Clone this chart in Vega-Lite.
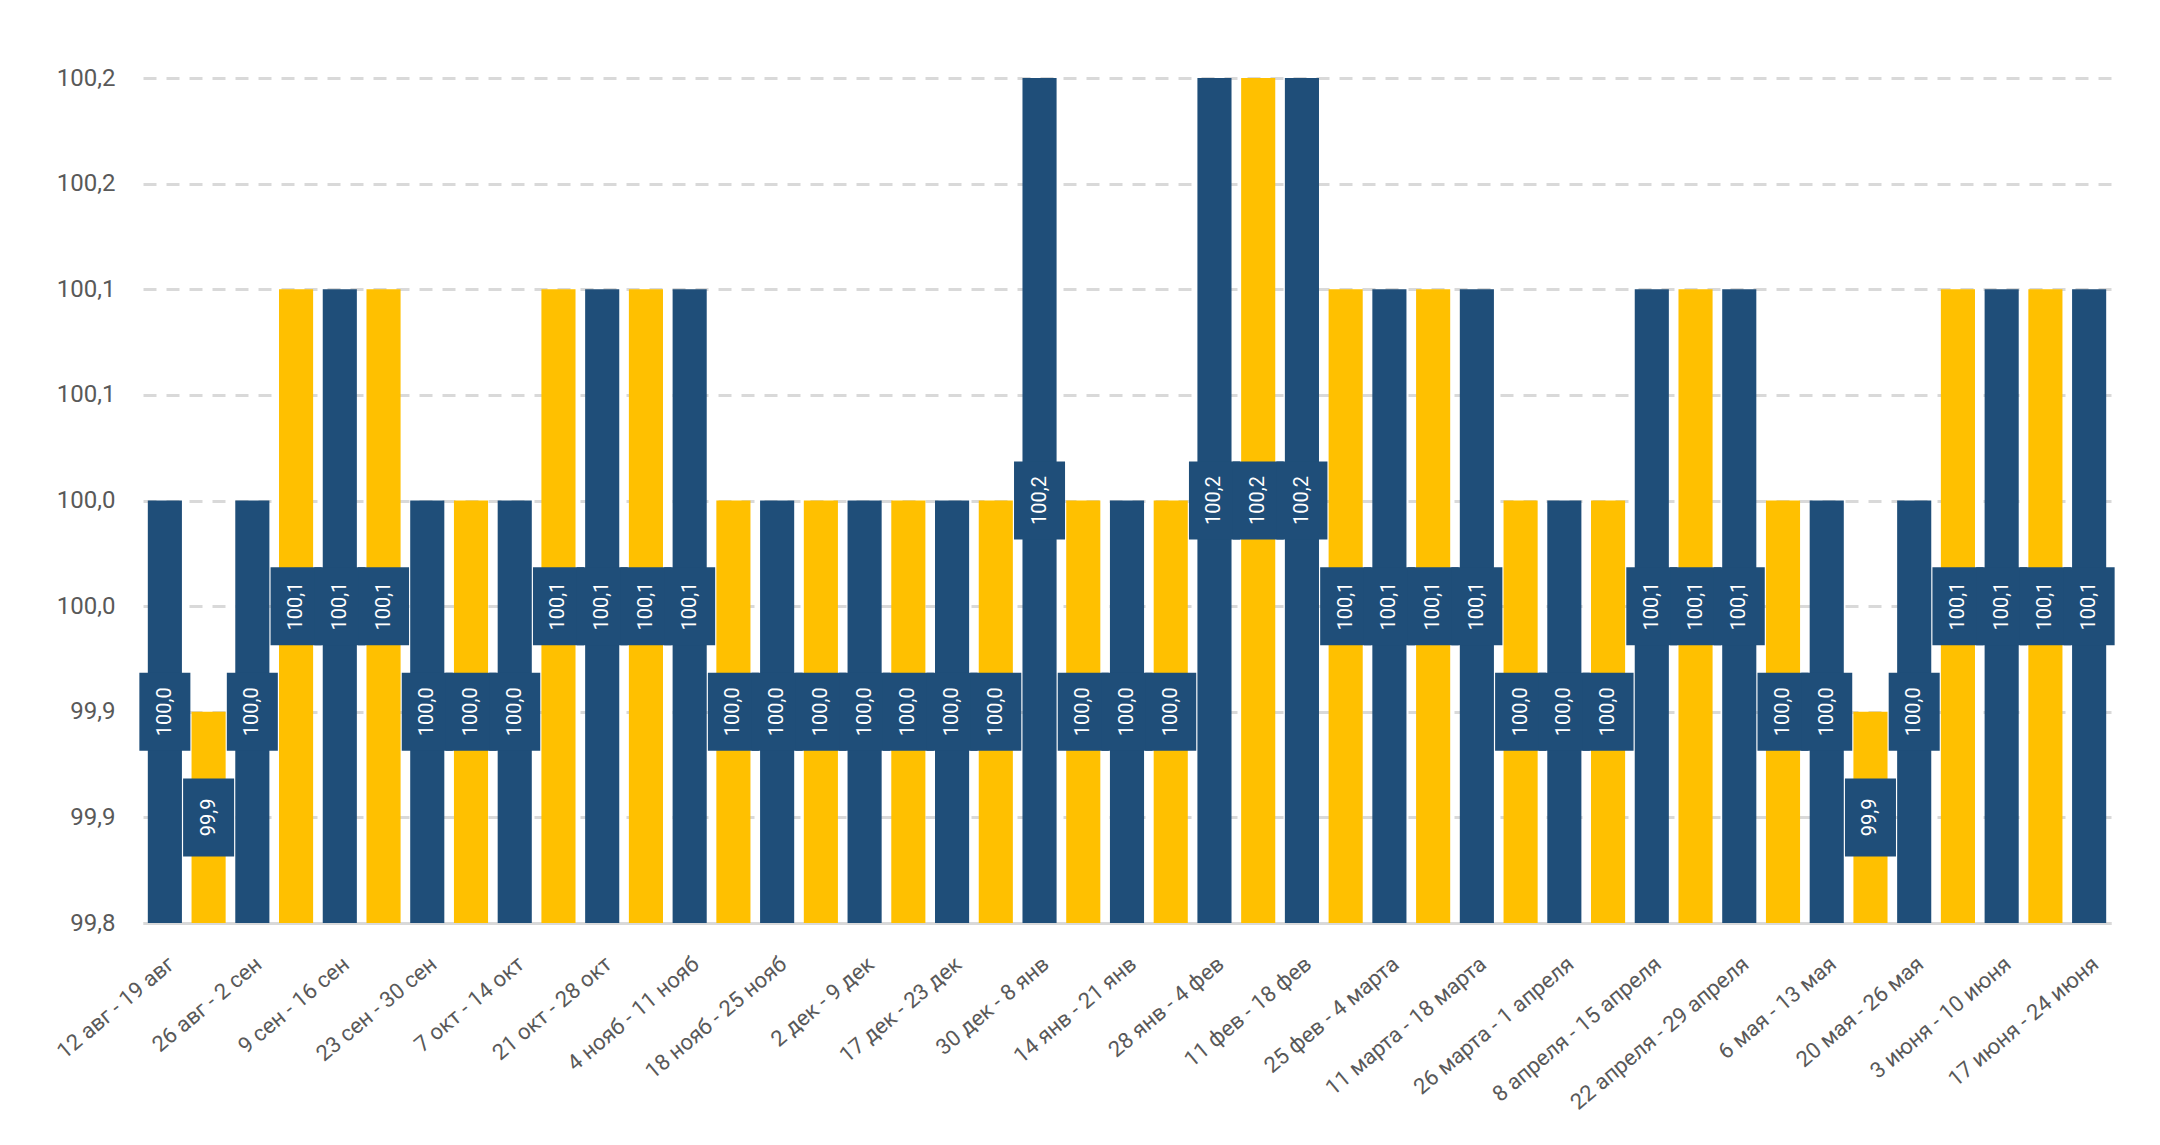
{
  "$schema": "https://vega.github.io/schema/vega-lite/v6.json",
  "width": 1968,
  "height": 845,
  "autosize": "none",
  "padding": {"left": 143, "top": 78, "right": 49, "bottom": 222},
  "background": "#ffffff",
  "config": {
    "view": {"stroke": null},
    "font": "Roboto, sans-serif"
  },
  "data": {
    "values": [
      {"неделя": "12 авг - 19 авг", "индекс": 100.0, "ряд": "1"},
      {"неделя": "19 авг - 26 авг", "индекс": 99.9, "ряд": "2"},
      {"неделя": "26 авг - 2 сен", "индекс": 100.0, "ряд": "1"},
      {"неделя": "2 сен - 9 сен", "индекс": 100.1, "ряд": "2"},
      {"неделя": "9 сен - 16 сен", "индекс": 100.1, "ряд": "1"},
      {"неделя": "16 сен - 23 сен", "индекс": 100.1, "ряд": "2"},
      {"неделя": "23 сен - 30 сен", "индекс": 100.0, "ряд": "1"},
      {"неделя": "30 сен - 7 окт", "индекс": 100.0, "ряд": "2"},
      {"неделя": "7 окт - 14 окт", "индекс": 100.0, "ряд": "1"},
      {"неделя": "14 окт - 21 окт", "индекс": 100.1, "ряд": "2"},
      {"неделя": "21 окт - 28 окт", "индекс": 100.1, "ряд": "1"},
      {"неделя": "28 окт - 4 нояб", "индекс": 100.1, "ряд": "2"},
      {"неделя": "4 нояб - 11 нояб", "индекс": 100.1, "ряд": "1"},
      {"неделя": "11 нояб - 18 нояб", "индекс": 100.0, "ряд": "2"},
      {"неделя": "18 нояб - 25 нояб", "индекс": 100.0, "ряд": "1"},
      {"неделя": "25 нояб - 2 дек", "индекс": 100.0, "ряд": "2"},
      {"неделя": "2 дек - 9 дек", "индекс": 100.0, "ряд": "1"},
      {"неделя": "9 дек - 16 дек", "индекс": 100.0, "ряд": "2"},
      {"неделя": "17 дек - 23 дек", "индекс": 100.0, "ряд": "1"},
      {"неделя": "23 дек - 30 дек", "индекс": 100.0, "ряд": "2"},
      {"неделя": "30 дек - 8 янв", "индекс": 100.2, "ряд": "1"},
      {"неделя": "8 янв - 14 янв", "индекс": 100.0, "ряд": "2"},
      {"неделя": "14 янв - 21 янв", "индекс": 100.0, "ряд": "1"},
      {"неделя": "21 янв - 28 янв", "индекс": 100.0, "ряд": "2"},
      {"неделя": "28 янв - 4 фев", "индекс": 100.2, "ряд": "1"},
      {"неделя": "4 фев - 11 фев", "индекс": 100.2, "ряд": "2"},
      {"неделя": "11 фев - 18 фев", "индекс": 100.2, "ряд": "1"},
      {"неделя": "18 фев - 25 фев", "индекс": 100.1, "ряд": "2"},
      {"неделя": "25 фев - 4 марта", "индекс": 100.1, "ряд": "1"},
      {"неделя": "4 марта - 11 марта", "индекс": 100.1, "ряд": "2"},
      {"неделя": "11 марта - 18 марта", "индекс": 100.1, "ряд": "1"},
      {"неделя": "18 марта - 25 марта", "индекс": 100.0, "ряд": "2"},
      {"неделя": "26 марта - 1 апреля", "индекс": 100.0, "ряд": "1"},
      {"неделя": "1 апреля - 8 апреля", "индекс": 100.0, "ряд": "2"},
      {"неделя": "8 апреля - 15 апреля", "индекс": 100.1, "ряд": "1"},
      {"неделя": "15 апреля - 22 апреля", "индекс": 100.1, "ряд": "2"},
      {"неделя": "22 апреля - 29 апреля", "индекс": 100.1, "ряд": "1"},
      {"неделя": "29 апреля - 6 мая", "индекс": 100.0, "ряд": "2"},
      {"неделя": "6 мая - 13 мая", "индекс": 100.0, "ряд": "1"},
      {"неделя": "13 мая - 20 мая", "индекс": 99.9, "ряд": "2"},
      {"неделя": "20 мая - 26 мая", "индекс": 100.0, "ряд": "1"},
      {"неделя": "27 мая - 3 июня", "индекс": 100.1, "ряд": "2"},
      {"неделя": "3 июня - 10 июня", "индекс": 100.1, "ряд": "1"},
      {"неделя": "10 июня - 17 июня", "индекс": 100.1, "ряд": "2"},
      {"неделя": "17 июня - 24 июня", "индекс": 100.1, "ряд": "1"}
    ]
  },
  "encoding": {
    "x": {
      "field": "неделя",
      "type": "nominal",
      "sort": null,
      "scale": {"paddingInner": 0.22, "paddingOuter": 0.11},
      "axis": {
        "title": null,
        "values": [
          "12 авг - 19 авг", "26 авг - 2 сен", "9 сен - 16 сен", "23 сен - 30 сен",
          "7 окт - 14 окт", "21 окт - 28 окт", "4 нояб - 11 нояб", "18 нояб - 25 нояб",
          "2 дек - 9 дек", "17 дек - 23 дек", "30 дек - 8 янв", "14 янв - 21 янв",
          "28 янв - 4 фев", "11 фев - 18 фев", "25 фев - 4 марта", "11 марта - 18 марта",
          "26 марта - 1 апреля", "8 апреля - 15 апреля", "22 апреля - 29 апреля",
          "6 мая - 13 мая", "20 мая - 26 мая", "3 июня - 10 июня", "17 июня - 24 июня"
        ],
        "labelAngle": -40,
        "labelAlign": "right",
        "labelBaseline": "top",
        "labelFontSize": 22,
        "labelColor": "#595959",
        "labelPadding": 30,
        "labelLimit": 0,
        "labelOverlap": false,
        "ticks": false,
        "domainColor": "#d9d9d9",
        "domainWidth": 3,
        "grid": false
      }
    }
  },
  "layer": [
    {
      "mark": {"type": "bar", "opacity": 1},
      "encoding": {
        "y": {
          "field": "индекс",
          "type": "quantitative",
          "scale": {"domain": [99.8, 100.2], "zero": false, "nice": false},
          "axis": {
            "title": null,
            "values": [99.8, 99.85, 99.9, 99.95, 100.0, 100.05, 100.1, 100.15, 100.2],
            "labelExpr": "replace(format(round(datum.value * 10 + 0.000001) / 10, '.1f'), '.', ',')",
            "labelFontSize": 24,
            "labelColor": "#595959",
            "labelPadding": 28,
            "ticks": false,
            "tickSize": 0,
            "domain": false,
            "grid": true,
            "gridColor": "#d9d9d9",
            "gridWidth": 3,
            "gridDash": [13, 10]
          }
        },
        "y2": {"datum": 99.8},
        "color": {
          "field": "ряд",
          "type": "nominal",
          "scale": {"domain": ["1", "2"], "range": ["#1F4E79", "#FFC000"]},
          "legend": null
        }
      }
    },
    {
      "mark": {
        "type": "point",
        "shape": "M-0.654,-1H0.654V1H-0.654Z",
        "size": 6084,
        "filled": true,
        "color": "#1F4E79",
        "opacity": 1,
        "strokeWidth": 0,
        "yOffset": {"expr": "(scale('y', 99.8) - scale('y', datum['индекс'])) / 2"}
      },
      "encoding": {
        "y": {"field": "индекс", "type": "quantitative"}
      }
    },
    {
      "mark": {
        "type": "text",
        "angle": 270,
        "align": "center",
        "baseline": "middle",
        "fontSize": 20,
        "color": "#ffffff",
        "text": {"expr": "replace(format(datum['индекс'], '.1f'), '.', ',')"},
        "yOffset": {"expr": "(scale('y', 99.8) - scale('y', datum['индекс'])) / 2"}
      },
      "encoding": {
        "y": {"field": "индекс", "type": "quantitative"}
      }
    }
  ]
}
